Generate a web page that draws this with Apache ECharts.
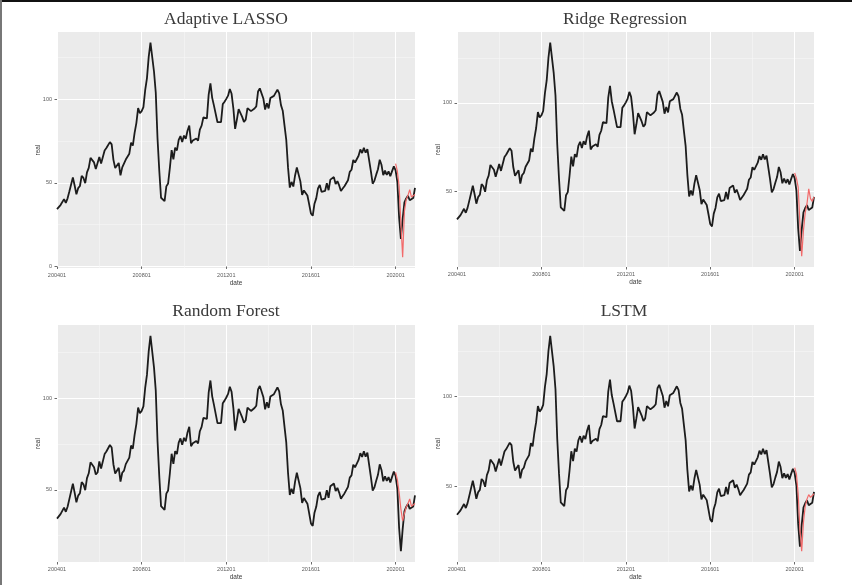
<!DOCTYPE html>
<html>
<head>
<meta charset="utf-8">
<script src="https://cdn.jsdelivr.net/npm/echarts@6/dist/echarts.min.js"></script>
<style>
  html, body { margin: 0; padding: 0; background: #ffffff; }
  #wrap { position: relative; width: 852px; height: 585px; }
  #chart { width: 852px; height: 585px; }
  #edgeTop { position: absolute; left: 0; top: 0; width: 852px; height: 2px; background: #111; }
  #edgeLeft { position: absolute; left: 0; top: 0; width: 2px; height: 585px; background: #777; }
</style>
</head>
<body>
<div id="wrap">
  <div id="chart"></div>
  <div id="edgeTop"></div>
  <div id="edgeLeft"></div>
</div>
<script>
// Monthly crude oil price (real), Jan 2004 – Dec 2020, one row per year
const realPrice = [
  34.31, 34.69, 36.74, 36.75, 40.28, 38.03, 40.78, 44.90, 45.94, 53.28, 48.47, 43.15,
  46.84, 48.15, 54.19, 52.98, 49.83, 56.35, 59.00, 64.99, 65.59, 62.26, 58.32, 59.41,
  65.49, 61.63, 62.69, 69.44, 70.84, 70.95, 74.41, 73.04, 63.80, 58.89, 59.08, 61.96,
  54.51, 59.28, 60.44, 63.98, 63.46, 67.49, 74.12, 72.36, 79.92, 85.80, 94.77, 91.69,
  92.97, 95.39, 105.45, 112.58, 125.40, 133.88, 133.37, 116.67, 104.11, 76.61, 57.31, 41.12,
  41.71, 39.09, 47.94, 49.65, 59.03, 69.64, 64.15, 71.05, 69.41, 75.72, 77.99, 74.47,
  78.33, 76.39, 81.20, 84.29, 73.74, 75.34, 76.32, 76.60, 75.24, 81.89, 84.25, 89.15,
  89.17, 88.58, 102.86, 109.53, 100.90, 96.26, 97.30, 86.33, 85.52, 86.32, 97.16, 98.56,
  100.27, 102.20, 106.16, 103.32, 94.66, 82.30, 87.90, 94.13, 94.51, 89.49, 86.53, 87.86,
  94.76, 95.31, 92.94, 92.02, 94.51, 95.77, 104.67, 106.57, 106.29, 100.54, 93.86, 97.63,
  94.62, 100.82, 100.80, 102.07, 102.18, 105.79, 103.59, 96.54, 93.21, 84.40, 75.79, 59.29,
  47.22, 50.58, 47.82, 54.45, 59.27, 59.82, 50.90, 42.87, 45.48, 46.22, 42.44, 37.19,
  31.68, 30.32, 37.55, 40.75, 46.71, 48.76, 44.65, 44.72, 45.18, 49.78, 45.66, 51.97,
  52.50, 53.47, 49.33, 51.06, 48.48, 45.18, 46.63, 48.04, 49.82, 51.58, 56.64, 57.88,
  63.70, 62.23, 62.73, 66.25, 69.98, 67.87, 70.98, 68.06, 70.23, 70.75, 56.96, 49.52,
  51.38, 54.95, 58.15, 63.86, 60.83, 54.66, 57.35, 54.81, 56.95, 53.96, 57.03, 59.88,
  57.52, 50.54, 29.21, 16.55, 28.56, 38.31, 40.71, 42.34, 39.63, 39.40, 40.94, 47.02
];

// Out-of-sample forecasts, Jan 2020 – Dec 2020
const predStart = '202001';
const predLasso  = [61.5, 57.0, 48.0, 26.0, 5.5, 33.0, 40.0, 42.5, 46.0, 41.5, 40.5, 43.0];
const predRidge  = [60.5, 57.5, 52.5, 32.0, 13.5, 28.0, 38.0, 43.0, 51.5, 46.0, 44.5, 47.0];
const predForest = [59.5, 55.5, 48.5, 39.5, 33.0, 37.0, 40.5, 42.5, 45.0, 41.0, 40.0, 42.5];
const predLstm   = [60.5, 57.0, 46.0, 26.0, 14.0, 30.0, 39.0, 43.0, 45.5, 44.0, 43.0, 46.0];

const panelTitles = ['Adaptive LASSO', 'Ridge Regression', 'Random Forest', 'LSTM'];
const panelPreds = [predLasso, predRidge, predForest, predLstm];

// Axis ticks
const xTickLabels = ['200401', '200801', '201201', '201601', '202001'];
const xMinorBreaks = ['200601', '201001', '201401', '201801'];
const yMajorTicks = [0, 50, 100];
const yMinorTicks = [25, 75, 125];

// Month categories in yyyymm form
const firstYear = 2004, lastYear = 2020;
const months = [];
for (let y = firstYear; y <= lastYear; y++) {
  for (let m = 1; m <= 12; m++) months.push(String(y) + (m < 10 ? '0' : '') + m);
}

// Layout of the four panels
const panels = [
  { grid: { left: 57,  top: 32,  width: 358, height: 236 }, title: [226, 19] },
  { grid: { left: 457, top: 32,  width: 357, height: 235 }, title: [625, 19] },
  { grid: { left: 57,  top: 325, width: 358, height: 237 }, title: [226, 311] },
  { grid: { left: 457, top: 325, width: 357, height: 237 }, title: [624, 311] }
];

const panelBg = '#ebebeb';
const labelColor = '#5a5a5a';
const startIdx = months.indexOf(predStart);

const option = {
  animation: false,
  backgroundColor: '#ffffff',
  grid: [], xAxis: [], yAxis: [], series: [], graphic: []
};

panels.forEach((p, i) => {
  const pred = panelPreds[i];
  const all = realPrice.concat(pred);
  const lo = Math.min.apply(null, all), hi = Math.max.apply(null, all);
  const pad = (hi - lo) * 0.05;
  const yMin = lo - pad, yMax = hi + pad;

  option.grid.push(Object.assign({
    show: true, backgroundColor: panelBg, borderWidth: 0, containLabel: false
  }, p.grid));

  const gx = 2 * i;
  // major x axis
  option.xAxis.push({
    type: 'category', gridIndex: i, data: months, boundaryGap: false,
    position: 'bottom',
    name: 'date', nameLocation: 'middle', nameGap: 12, nameMoveOverlap: false,
    nameTextStyle: { fontFamily: 'Liberation Sans', fontSize: 6.5, color: '#3a3a3a' },
    axisLine: { show: false },
    axisTick: { show: true, length: 2.5, lineStyle: { color: '#444', width: 0.8 },
      interval: (idx, v) => xTickLabels.indexOf(v) >= 0 },
    axisLabel: { show: true, margin: 4.5, fontFamily: 'Liberation Sans', fontSize: 5.5, color: labelColor,
      interval: (idx, v) => xTickLabels.indexOf(v) >= 0 },
    splitLine: { show: true, lineStyle: { color: '#ffffff', width: 1.1 },
      interval: (idx, v) => xTickLabels.indexOf(v) >= 0 }
  });
  // minor x gridlines
  option.xAxis.push({
    type: 'category', gridIndex: i, data: months, boundaryGap: false,
    position: 'bottom',
    axisLine: { show: false }, axisTick: { show: false }, axisLabel: { show: false },
    splitLine: { show: true, lineStyle: { color: '#f7f7f7', width: 0.6 },
      interval: (idx, v) => xMinorBreaks.indexOf(v) >= 0 }
  });
  // major y axis
  option.yAxis.push({
    type: 'value', gridIndex: i, min: yMin, max: yMax,
    name: 'real', nameLocation: 'middle', nameGap: 15, nameRotate: 90, nameMoveOverlap: false,
    nameTextStyle: { fontFamily: 'Liberation Sans', fontSize: 6.5, color: '#3a3a3a' },
    axisLine: { show: false },
    axisTick: { show: true, length: 2.5, lineStyle: { color: '#444', width: 0.8 }, customValues: yMajorTicks },
    axisLabel: { show: true, margin: 5, fontFamily: 'Liberation Sans', fontSize: 5.5, color: labelColor,
      customValues: yMajorTicks },
    splitLine: { show: true, lineStyle: { color: '#ffffff', width: 1.1 } }
  });
  // minor y gridlines
  option.yAxis.push({
    type: 'value', gridIndex: i, min: yMin, max: yMax,
    axisLine: { show: false },
    axisTick: { show: false, customValues: yMinorTicks },
    axisLabel: { show: false, customValues: yMinorTicks },
    splitLine: { show: true, lineStyle: { color: '#f7f7f7', width: 0.6 } }
  });

  option.series.push({
    name: 'real', type: 'line', xAxisIndex: gx, yAxisIndex: gx,
    data: realPrice, symbol: 'none', z: 3,
    lineStyle: { color: '#1c1c1c', width: 1.8 }
  });

  const predSeries = months.map((m, k) => (k >= startIdx ? pred[k - startIdx] : null));
  option.series.push({
    name: 'pred', type: 'line', xAxisIndex: gx, yAxisIndex: gx,
    data: predSeries, symbol: 'none', z: 4,
    lineStyle: { color: '#f26a6a', width: 1.2 }
  });

  option.graphic.push({
    type: 'text', x: p.title[0], y: p.title[1],
    style: {
      text: panelTitles[i], fill: '#3a3a3a',
      font: 'normal 17.5px "Liberation Serif", "DejaVu Serif", serif',
      textAlign: 'center', textVerticalAlign: 'middle'
    }
  });
});

const chart = echarts.init(document.getElementById('chart'), null, { renderer: 'canvas' });
chart.setOption(option);
</script>
</body>
</html>
